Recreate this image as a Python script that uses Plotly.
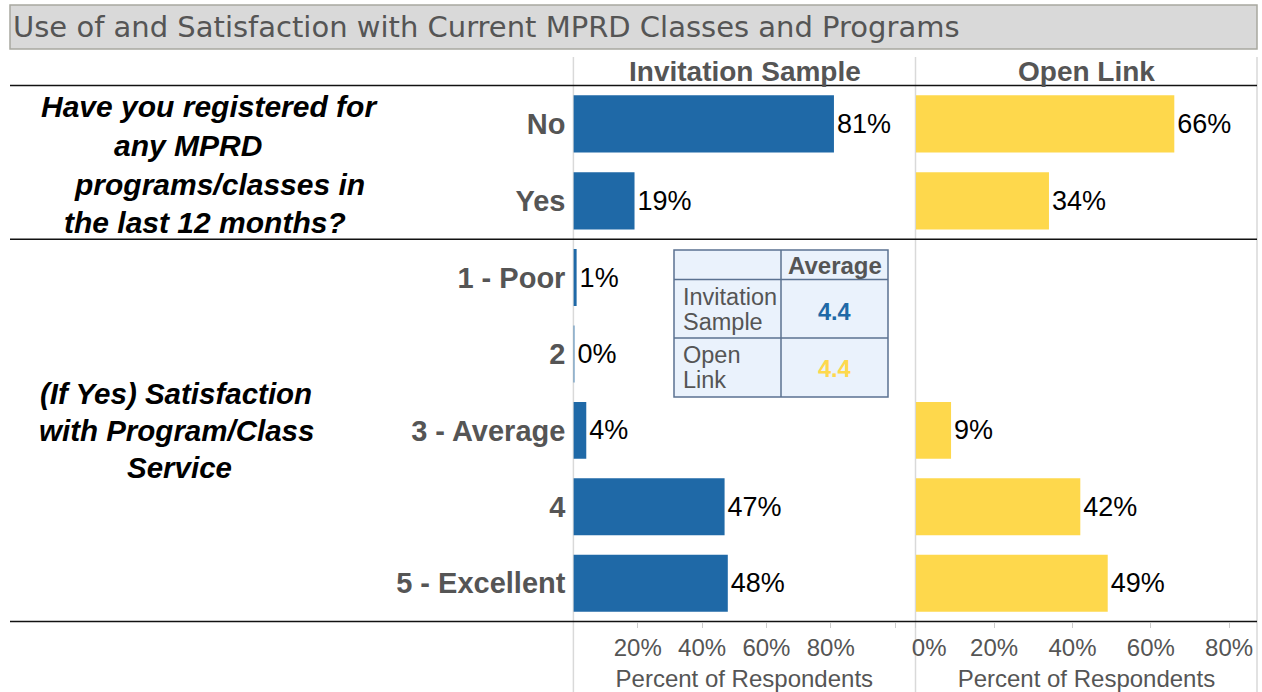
import plotly.graph_objects as go

W, H = 1262, 692

# ---------------- data ----------------
categories_top = ["No", "Yes"]
categories_bottom = ["1 - Poor", "2", "3 - Average", "4", "5 - Excellent"]
invitation_top = [81, 19]
open_top = [66, 34]
invitation_bottom = [1, 0.3, 4, 47, 48]
open_bottom = [None, None, 9, 42, 49]
panel_titles = ["Invitation Sample", "Open Link"]
question1_lines = ["Have you registered for", "any MPRD", "programs/classes in", "the last 12 months?"]
question2_lines = ["(If Yes) Satisfaction", "with Program/Class", "Service"]
chart_title = "Use of and Satisfaction with Current MPRD Classes and Programs"
avg_header = "Average"
avg_row_lines = [["Invitation", "Sample"], ["Open", "Link"]]
avg_values = [4.4, 4.4]
inv_tickvals = [20, 40, 60, 80, 100]
inv_ticktext = ["20%", "40%", "60%", "80%", ""]
open_tickvals = [0, 20, 40, 60, 80]
open_ticktext = ["\u00a0\u00a0\u00a0\u00a00%", "20%", "40%", "60%", "80%"]
axis_title = "Percent of Respondents"

BLUE = "#1F69A7"
YELLOW = "#FED84C"
GREY_TXT = "#555555"
FONT = "Liberation Sans"


def X(px):
    return px / W


def Y(py):
    return 1 - py / H


xd1 = [X(573.4), X(915.2)]
xd2 = [X(915.8), X(1257)]
yd_top = [Y(239.3), Y(85.5)]
yd_bot = [Y(621.5), Y(239.3)]

fig = go.Figure()

bar_common = dict(
    orientation="h",
    width=0.745,
    texttemplate="%{x:.0f}%",
    textposition="outside",
    cliponaxis=False,
    constraintext="none",
    textfont=dict(family=FONT, size=27, color="black"),
    showlegend=False,
    hoverinfo="skip",
)

fig.add_trace(go.Bar(x=invitation_top, y=categories_top, xaxis="x", yaxis="y",
                     marker=dict(color=BLUE, line=dict(width=0)), **bar_common))
fig.add_trace(go.Bar(x=open_top, y=categories_top, xaxis="x2", yaxis="y2",
                     marker=dict(color=YELLOW, line=dict(width=0)), **bar_common))
fig.add_trace(go.Bar(x=invitation_bottom, y=categories_bottom, xaxis="x3", yaxis="y3",
                     marker=dict(color=BLUE, line=dict(width=0)), **bar_common))
fig.add_trace(go.Bar(x=open_bottom, y=categories_bottom, xaxis="x4", yaxis="y4",
                     marker=dict(color=YELLOW, line=dict(width=0)), **bar_common))

xbase = dict(showgrid=False, zeroline=False, showline=False, fixedrange=True, automargin=False)
ybase = dict(showgrid=False, zeroline=False, showline=False, type="category",
             fixedrange=True, ticks="", automargin=False)

inv_range = [0, (915.2 - 573.4) / 3.2167]
open_range = [0, (1257 - 915.8) / 3.9167]

tick_style = dict(ticks="outside", ticklen=5, tickcolor="#cccccc", tickwidth=1,
                  tickfont=dict(family=FONT, size=24, color=GREY_TXT))
title_style = dict(text=axis_title, font=dict(family=FONT, size=24, color=GREY_TXT),
                   standoff=9)
cat_font = dict(family=FONT, size=29, color=GREY_TXT, weight="bold")

fig.update_layout(
    xaxis=dict(domain=xd1, anchor="y", range=inv_range, showticklabels=False, **xbase),
    xaxis2=dict(domain=xd2, anchor="y2", range=open_range, showticklabels=False, **xbase),
    xaxis3=dict(domain=xd1, anchor="y3", range=inv_range, tickvals=inv_tickvals,
                ticktext=inv_ticktext, title=title_style, **tick_style, **xbase),
    xaxis4=dict(domain=xd2, anchor="y4", range=open_range, tickvals=open_tickvals,
                ticktext=open_ticktext, title=title_style, **tick_style, **xbase),
    yaxis=dict(domain=yd_top, anchor="x", categoryorder="array", categoryarray=categories_top,
               range=[len(categories_top) - 0.5, -0.5], ticklabelstandoff=7,
               tickfont=cat_font, **ybase),
    yaxis2=dict(domain=yd_top, anchor="x2", categoryorder="array", categoryarray=categories_top,
                range=[len(categories_top) - 0.5, -0.5], showticklabels=False, **ybase),
    yaxis3=dict(domain=yd_bot, anchor="x3", categoryorder="array", categoryarray=categories_bottom,
                range=[len(categories_bottom) - 0.5, -0.5], ticklabelstandoff=7,
                tickfont=cat_font, **ybase),
    yaxis4=dict(domain=yd_bot, anchor="x4", categoryorder="array", categoryarray=categories_bottom,
                range=[len(categories_bottom) - 0.5, -0.5], showticklabels=False, **ybase),
    width=W, height=H,
    margin=dict(l=0, r=0, t=0, b=0, autoexpand=False),
    paper_bgcolor="white",
    plot_bgcolor="rgba(0,0,0,0)",
)

shapes = []
# title bar
shapes.append(dict(type="rect", xref="paper", yref="paper", x0=X(10), x1=X(1257), y0=Y(49), y1=Y(5),
                   fillcolor="#d9d9d9", line=dict(color="#a8a8a0", width=1.5), layer="below"))
# vertical separators
for xv in [573.4, 915.5, 1257]:
    shapes.append(dict(type="line", xref="paper", yref="paper", x0=X(xv), x1=X(xv), y0=Y(57), y1=Y(692),
                       line=dict(color="#d9d9d9", width=1.5), layer="below"))
# horizontal black rules
for yv in [85.5, 239.3, 621.5]:
    shapes.append(dict(type="line", xref="paper", yref="paper", x0=X(10), x1=X(1257), y0=Y(yv), y1=Y(yv),
                       line=dict(color="#111111", width=1.5)))
# average table
TBL_BORDER = "#5b7291"
TBL_FILL = "#eaf2fc"
shapes.append(dict(type="rect", xref="paper", yref="paper", x0=X(674), x1=X(888), y0=Y(397), y1=Y(250),
                   fillcolor=TBL_FILL, line=dict(color=TBL_BORDER, width=1.5)))
for yv in [279.5, 338]:
    shapes.append(dict(type="line", xref="paper", yref="paper", x0=X(674), x1=X(888), y0=Y(yv), y1=Y(yv),
                       line=dict(color=TBL_BORDER, width=1.5)))
shapes.append(dict(type="line", xref="paper", yref="paper", x0=X(781), x1=X(781), y0=Y(250), y1=Y(397),
                   line=dict(color=TBL_BORDER, width=1.5)))


def note(text, x, y, size, color, xanchor="center", weight="normal", style="normal", family=FONT):
    return dict(text=text, x=X(x), y=Y(y), xref="paper", yref="paper",
                xanchor=xanchor, yanchor="middle", showarrow=False,
                font=dict(family=family, size=size, color=color, weight=weight, style=style))


annotations = []
annotations.append(note(chart_title, 11, 27, 29, GREY_TXT, xanchor="left", family="DejaVu Sans"))
for t, xc in zip(panel_titles, [744.5, 1086.5]):
    annotations.append(note(t, xc, 71, 28, GREY_TXT, weight="bold"))
for line, xc, yc in zip(question1_lines, [209, 188, 219, 205], [106.5, 145.5, 184.5, 222.5]):
    annotations.append(note(line, xc, yc, 30, "black", weight="bold", style="italic"))
for line, xc, yc in zip(question2_lines, [176, 176, 179], [393, 430, 467]):
    annotations.append(note(line, xc, yc, 29.5, "black", weight="bold", style="italic"))
annotations.append(note(avg_header, 834.5, 265, 24, GREY_TXT, weight="bold"))
for lines, val, col, yc, ys in zip(avg_row_lines, avg_values, [BLUE, YELLOW], [311.5, 368.5],
                                   [[297, 322], [355, 380]]):
    for ln, yl in zip(lines, ys):
        annotations.append(note(ln, 681, yl, 23.5, GREY_TXT, xanchor="left"))
    annotations.append(note("%.1f" % val, 834.5, yc, 23.5, col, weight="bold"))

fig.update_layout(shapes=shapes, annotations=annotations)

fig.write_html("out.html", config={"displayModeBar": False},
               post_script="document.body.style.margin='0';")
